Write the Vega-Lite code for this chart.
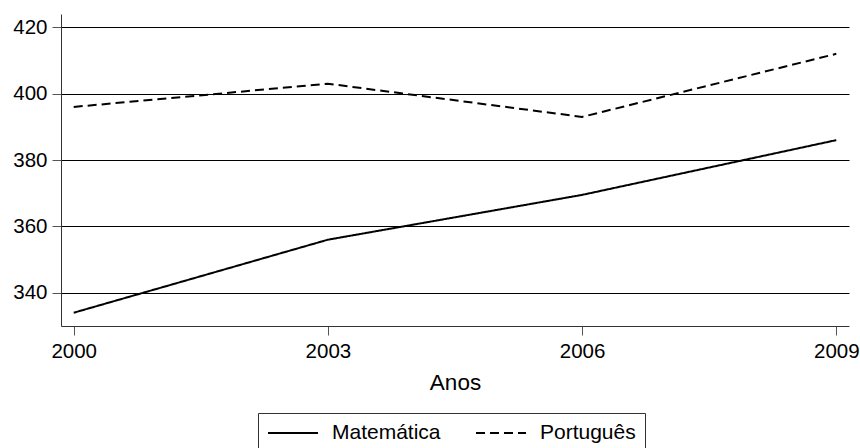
{
  "$schema": "https://vega.github.io/schema/vega-lite/v6.json",
  "autosize": {"type": "none"},
  "padding": {"left": 61, "top": 14, "right": 11, "bottom": 122},
  "width": 788,
  "height": 312,
  "background": "white",
  "config": {
    "view": {"stroke": null},
    "font": "Liberation Sans",
    "axis": {"labelFont": "Liberation Sans", "titleFont": "Liberation Sans", "labelColor": "black", "titleColor": "black", "titleFontWeight": "normal"},
    "legend": {"labelFont": "Liberation Sans"}
  },
  "data": {
    "values": [
      {"ano": 2000, "disciplina": "Matemática", "nota": 334},
      {"ano": 2003, "disciplina": "Matemática", "nota": 356},
      {"ano": 2006, "disciplina": "Matemática", "nota": 369.5},
      {"ano": 2009, "disciplina": "Matemática", "nota": 386},
      {"ano": 2000, "disciplina": "Português", "nota": 396},
      {"ano": 2003, "disciplina": "Português", "nota": 403},
      {"ano": 2006, "disciplina": "Português", "nota": 393},
      {"ano": 2009, "disciplina": "Português", "nota": 412}
    ]
  },
  "mark": {"type": "line", "color": "black", "strokeWidth": 2, "clip": true},
  "encoding": {
    "x": {
      "field": "ano", "type": "quantitative",
      "scale": {"domain": [1999.85, 2009.15], "nice": false, "zero": false},
      "axis": {"values": [2000, 2003, 2006, 2009], "format": "d", "title": "Anos", "grid": false,
        "labelFontSize": 20.5, "titleFontSize": 22.5, "tickSize": 9, "labelPadding": 6, "titlePadding": 10,
        "domainColor": "#333", "tickColor": "#555", "labelFlush": false}
    },
    "y": {
      "field": "nota", "type": "quantitative",
      "scale": {"domain": [330, 424], "nice": false, "zero": false},
      "axis": {"values": [340, 360, 380, 400, 420], "title": null, "grid": true, "gridColor": "black", "gridWidth": 1, "gridOpacity": 1,
        "labelFontSize": 20.5, "tickSize": 9, "labelPadding": 5, "domainColor": "#333", "tickColor": "#555", "labelFlush": false}
    },
    "strokeDash": {
      "field": "disciplina", "type": "nominal",
      "scale": {"domain": ["Matemática", "Português"], "range": [[1, 0], [9, 5]]},
      "legend": {"title": null, "orient": "none", "direction": "horizontal", "legendX": 197, "legendY": 399,
        "strokeColor": "#333", "padding": 9, "symbolType": "M-2.5,0H2.5", "symbolSize": 400, "symbolStrokeWidth": 2,
        "symbolOffset": 15,
        "symbolStrokeColor": "black", "symbolFillColor": "transparent", "labelFontSize": 21, "labelColor": "black", "labelOffset": 28, "columnPadding": 31}
    }
  }
}
